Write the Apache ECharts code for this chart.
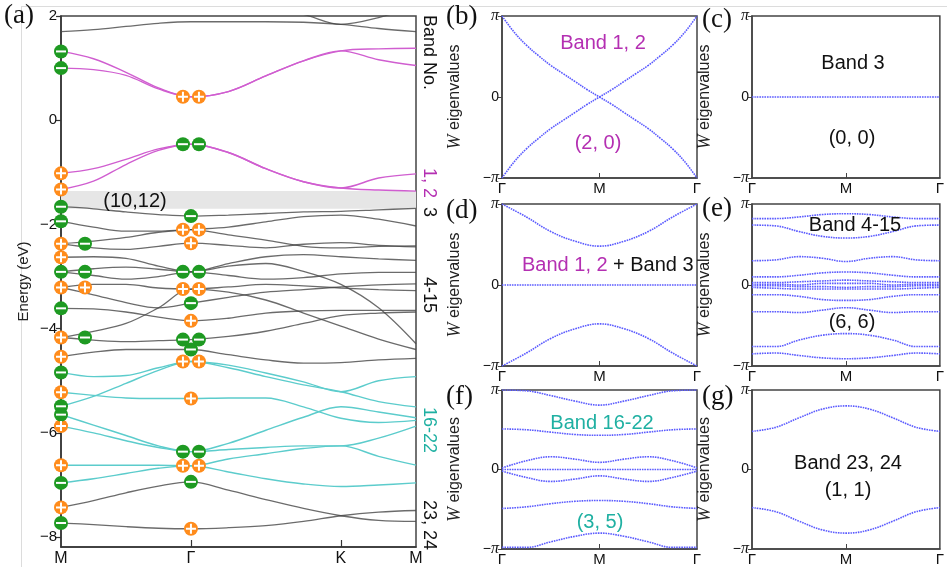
<!DOCTYPE html>
<html><head><meta charset="utf-8">
<script src="https://cdn.jsdelivr.net/npm/echarts@6/dist/echarts.min.js"></script>
<style>html,body{margin:0;padding:0;background:#fff}#c{width:947px;height:567px}</style>
</head><body><div id="c"></div>
<script>
// ---------- panel (a): band structure ----------
const kpath = [0, 0.125, 0.25, 0.375, 0.5, 0.644, 0.788, 0.933, 1.077, 1.222, 1.366];
const kTickPos = [0, 0.5, 1.077, 1.366];
const kTickLabels = ['M', 'Γ', 'K', 'M'];
const energyTicks = [-8, -6, -4, -2, 0, 2];

const topGreyBands = [
  [1.70, 1.74, 1.80, 1.86, 1.89, 1.89, 1.89, 1.88, 1.84, 1.76, 1.70],
  [2.40, 2.40, 2.40, 2.40, 2.40, 2.30, 2.15, 2.03, 1.84, 1.97, 2.20]
];
const magentaBands = [
  [1.32, 1.18, 0.92, 0.62, 0.45, 0.55, 0.85, 1.14, 1.33, 1.37, 1.38],
  [1.00, 0.97, 0.86, 0.60, 0.45, 0.55, 0.85, 1.14, 1.33, 1.16, 1.05],
  [-1.02, -0.93, -0.75, -0.55, -0.46, -0.62, -0.93, -1.18, -1.30, -1.11, -1.03],
  [-1.33, -1.17, -0.85, -0.58, -0.46, -0.62, -0.93, -1.18, -1.30, -1.34, -1.36]
];
const greyBands = [
  [-1.66, -1.70, -1.76, -1.81, -1.84, -1.82, -1.79, -1.76, -1.75, -1.72, -1.69],
  [-1.94, -2.05, -2.13, -2.13, -2.10, -2.20, -2.30, -2.42, -2.45, -2.42, -2.41],
  [-2.37, -2.32, -2.25, -2.15, -2.10, -2.05, -1.95, -1.85, -1.82, -1.90, -2.03],
  [-2.37, -2.45, -2.48, -2.42, -2.36, -2.40, -2.45, -2.38, -2.35, -2.40, -2.43],
  [-2.63, -2.62, -2.65, -2.80, -2.91, -2.75, -2.62, -2.58, -2.62, -2.66, -2.69],
  [-2.91, -2.85, -2.82, -2.86, -2.91, -2.80, -2.75, -2.90, -3.15, -3.60, -4.29],
  [-2.91, -2.98, -3.05, -3.00, -2.91, -2.98, -3.05, -3.02, -2.95, -2.92, -2.92],
  [-3.21, -3.15, -3.15, -3.22, -3.24, -3.20, -3.15, -3.18, -3.22, -3.25, -3.27],
  [-3.21, -3.35, -3.50, -3.60, -3.51, -3.40, -3.30, -3.25, -3.20, -3.16, -3.14],
  [-3.61, -3.62, -3.68, -3.78, -3.85, -3.80, -3.70, -3.66, -3.65, -3.65, -3.65],
  [-4.17, -4.05, -3.90, -3.60, -3.24, -3.30, -3.45, -3.70, -3.95, -4.20, -4.40],
  [-4.17, -4.22, -4.25, -4.23, -4.21, -4.15, -4.05, -3.90, -3.75, -3.70, -3.68],
  [-4.54, -4.45, -4.40, -4.40, -4.40, -4.50, -4.60, -4.66, -4.65, -4.60, -4.57]
];
const cyanBands = [
  [-4.84, -4.92, -4.90, -4.75, -4.63, -4.75, -4.92, -5.08, -5.21, -5.40, -5.50],
  [-5.49, -5.30, -5.05, -4.80, -4.63, -4.70, -4.85, -5.02, -5.21, -5.00, -4.92],
  [-5.22, -5.28, -5.33, -5.34, -5.34, -5.33, -5.33, -5.50, -5.72, -5.80, -5.76],
  [-5.65, -5.85, -6.05, -6.25, -6.36, -6.20, -5.95, -5.70, -5.50, -5.60, -5.71],
  [-5.87, -6.00, -6.15, -6.28, -6.36, -6.32, -6.28, -6.25, -6.25, -6.10, -5.87],
  [-6.62, -6.62, -6.62, -6.62, -6.63, -6.50, -6.40, -6.30, -6.25, -6.45, -6.62],
  [-6.96, -6.88, -6.78, -6.68, -6.63, -6.75, -6.88, -6.98, -7.03, -7.00, -6.96]
];
const bottomGreyBands = [
  [-7.43, -7.30, -7.15, -7.02, -6.94, -7.10, -7.28, -7.45, -7.59, -7.68, -7.70],
  [-7.73, -7.76, -7.80, -7.83, -7.84, -7.82, -7.78, -7.70, -7.59, -7.52, -7.49]
];
const gapBand = [-1.36, -1.70];

// parity eigenvalues (energy of the state) at M and Γ
const plusAtM = [-1.02, -1.33, -2.37, -2.63, -3.21, -4.17, -4.54, -5.22, -5.87, -6.62, -7.43];
const minusAtM = [1.32, 1.00, -1.66, -1.94, -2.91, -3.61, -4.84, -5.49, -5.65, -6.96, -7.73];
const plusAtM2 = [-3.21];
const minusAtM2 = [-2.37, -2.91, -4.17];
const plusAtG = [-2.36, -3.85, -5.34, -7.84];
const minusAtG = [-1.84, -3.51, -4.40, -6.94];
const plusPairAtG = [0.45, -2.10, -3.24, -4.63, -6.63];
const minusPairAtG = [-0.46, -2.91, -4.21, -6.36];

// ---------- Wilson loop panels ----------
const wk17 = [0, 0.0625, 0.125, 0.1875, 0.25, 0.3125, 0.375, 0.4375, 0.5, 0.5625, 0.625, 0.6875, 0.75, 0.8125, 0.875, 0.9375, 1];
const wk9 = [0, 0.125, 0.25, 0.375, 0.5, 0.625, 0.75, 0.875, 1];
const wTickPos = [0, 0.5, 1];
const wTickLabels = ['Γ', 'M', 'Γ'];
const piTicks = [-1, 0, 1];

const wilsonB = [
  [1.0, 0.80, 0.64, 0.51, 0.39, 0.29, 0.19, 0.09, 0, -0.09, -0.19, -0.29, -0.39, -0.51, -0.64, -0.80, -1.0],
  [-1.0, -0.80, -0.64, -0.51, -0.39, -0.29, -0.19, -0.09, 0, 0.09, 0.19, 0.29, 0.39, 0.51, 0.64, 0.80, 1.0]
];
const wilsonC = [
  [0, 0, 0, 0, 0, 0, 0, 0, 0]
];
const wilsonD = [
  [1.0, 0.84, 0.66, 0.54, 0.48, 0.54, 0.66, 0.84, 1.0],
  [0, 0, 0, 0, 0, 0, 0, 0, 0],
  [-1.0, -0.84, -0.66, -0.54, -0.48, -0.54, -0.66, -0.84, -1.0]
];
const wilsonE = [
  [0.82, 0.82, 0.84, 0.87, 0.88, 0.87, 0.84, 0.82, 0.82],
  [0.74, 0.73, 0.66, 0.60, 0.58, 0.60, 0.66, 0.73, 0.74],
  [0.30, 0.31, 0.35, 0.33, 0.29, 0.33, 0.35, 0.31, 0.30],
  [0.10, 0.10, 0.12, 0.15, 0.16, 0.15, 0.12, 0.10, 0.10],
  [0.03, 0.03, 0.04, 0.05, 0.06, 0.05, 0.04, 0.03, 0.03],
  [0.01, 0.01, 0.00, 0.02, 0.02, 0.02, 0.00, 0.01, 0.01],
  [-0.01, -0.01, -0.02, -0.02, -0.03, -0.02, -0.02, -0.01, -0.01],
  [-0.03, -0.04, -0.05, -0.05, -0.05, -0.05, -0.05, -0.04, -0.03],
  [-0.12, -0.12, -0.14, -0.18, -0.19, -0.18, -0.14, -0.12, -0.12],
  [-0.33, -0.33, -0.34, -0.31, -0.28, -0.31, -0.34, -0.33, -0.33],
  [-0.76, -0.76, -0.68, -0.62, -0.60, -0.62, -0.68, -0.76, -0.76],
  [-0.85, -0.84, -0.87, -0.90, -0.91, -0.90, -0.87, -0.84, -0.85]
];
const wilsonF = [
  [1.0, 0.99, 0.93, 0.86, 0.81, 0.86, 0.93, 0.99, 1.0],
  [0.51, 0.50, 0.47, 0.44, 0.43, 0.44, 0.47, 0.50, 0.51],
  [0.02, 0.11, 0.16, 0.13, 0.09, 0.13, 0.16, 0.11, 0.02],
  [0, 0, 0, 0, 0, 0, 0, 0, 0],
  [-0.02, -0.10, -0.15, -0.12, -0.08, -0.12, -0.15, -0.10, -0.02],
  [-0.49, -0.47, -0.43, -0.40, -0.39, -0.40, -0.43, -0.47, -0.49],
  [-0.98, -0.98, -0.91, -0.84, -0.80, -0.84, -0.91, -0.98, -0.98]
];
const wilsonG = [
  [0.48, 0.53, 0.65, 0.76, 0.80, 0.76, 0.65, 0.53, 0.48],
  [-0.48, -0.53, -0.65, -0.76, -0.80, -0.76, -0.65, -0.53, -0.48]
];

// ---------- styling ----------
const SANS = 'Liberation Sans, Arial, sans-serif';
const SERIF = 'Liberation Serif, Times New Roman, serif';
const MAGENTA = '#d05ed0';
const MAGENTA_TXT = '#b42fb2';
const CYAN = '#5ccccc';
const TEAL_TXT = '#1fb0a2';
const GREY = 'rgba(70,70,70,0.8)';
const WBLUE = '#5b5bff';
const ORANGE = '#ff8c1c';
const GREEN = '#1e9a22';
const PLUS_PATH = 'path://M4,0H6V4H10V6H6V10H4V6H0V4H4Z';

const chart = echarts.init(document.getElementById('c'), null, {renderer: 'canvas'});

const grids = [
  {left: 61, top: 16, width: 355, height: 535},
  {left: 502, top: 16, width: 195, height: 162},
  {left: 752, top: 16, width: 196, height: 162},
  {left: 502, top: 204, width: 195, height: 162},
  {left: 752, top: 204, width: 196, height: 162},
  {left: 502, top: 390, width: 195, height: 161},
  {left: 752, top: 390, width: 196, height: 161}
].map(g => Object.assign({show: true, borderColor: '#444', borderWidth: 1.5, backgroundColor: 'transparent'}, g));

const fmtMinus = v => (v < 0 ? '\u2212' + Math.abs(v) : String(v));

const xAxes = [{
  gridIndex: 0, type: 'value', min: 0, max: 1.366,
  splitLine: {show: false},
  axisLine: {show: true, onZero: false, lineStyle: {color: '#333', width: 1.5}},
  axisTick: {show: true, inside: true, length: 7, customValues: [kTickPos[1], kTickPos[2]], lineStyle: {color: '#333', width: 1.2}},
  axisLabel: {customValues: kTickPos, fontSize: 16, fontFamily: SANS, color: '#111', margin: 4,
    formatter: v => kTickLabels[kTickPos.findIndex(p => Math.abs(p - v) < 1e-6)] || ''}
}];
const yAxes = [{
  gridIndex: 0, type: 'value', min: -8.19, max: 2,
  splitLine: {show: false},
  axisLine: {show: true, onZero: false, lineStyle: {color: '#333', width: 1.5}},
  axisTick: {show: true, length: 5, customValues: energyTicks, lineStyle: {color: '#333', width: 1.2}},
  axisLabel: {customValues: energyTicks, fontSize: 15, fontFamily: SANS, color: '#111', margin: 4, formatter: fmtMinus},
  name: 'Energy (eV)', nameLocation: 'middle', nameGap: 30, nameRotate: 90,
  nameTextStyle: {fontSize: 15, fontFamily: SANS, color: '#222'}
}];
for (let i = 1; i <= 6; i++) {
  xAxes.push({
    gridIndex: i, type: 'value', min: 0, max: 1,
    splitLine: {show: false},
    axisLine: {show: true, onZero: false, lineStyle: {color: '#444', width: 1.5}},
    axisTick: {show: true, inside: true, length: 5, customValues: [0.5], lineStyle: {color: '#444'}},
    axisLabel: {customValues: wTickPos, fontSize: 15, fontFamily: SANS, color: '#111', margin: 3,
      formatter: v => wTickLabels[wTickPos.findIndex(p => Math.abs(p - v) < 1e-6)] || ''}
  });
  yAxes.push({
    gridIndex: i, type: 'value', min: -1, max: 1,
    splitLine: {show: false},
    axisLine: {show: true, onZero: false, lineStyle: {color: '#444', width: 1.5}},
    axisTick: {show: true, length: 4, customValues: piTicks, lineStyle: {color: '#444'}},
    axisLabel: {customValues: piTicks, fontSize: 14, fontFamily: SANS, color: '#111', margin: 3,
      formatter: v => (v > 0 ? '{p|π}' : v < 0 ? '\u2212{p|π}' : '0'),
      rich: {p: {fontFamily: SERIF, fontStyle: 'italic', fontSize: 16, color: '#111'}}},
    name: '{w|W} eigenvalues', nameLocation: 'middle', nameGap: 38, nameRotate: 90,
    nameTextStyle: {fontSize: 16, fontFamily: SANS, color: '#222',
      rich: {w: {fontFamily: SERIF, fontStyle: 'italic', fontSize: 18, color: '#222'}}}
  });
}

const series = [];
function bandSeries(bands, color, width, z) {
  bands.forEach(b => series.push({
    type: 'line', xAxisIndex: 0, yAxisIndex: 0, smooth: 0.35, symbol: 'none', z: z,
    lineStyle: {color: color, width: width}, silent: true,
    data: kpath.map((k, i) => [k, b[i]])
  }));
}
// grey gap shading
series.push({
  type: 'line', xAxisIndex: 0, yAxisIndex: 0, data: [], z: 1,
  markArea: {silent: true, itemStyle: {color: '#e6e6e6'},
    data: [[{xAxis: 0, yAxis: gapBand[0]}, {xAxis: 1.366, yAxis: gapBand[1]}]]}
});
bandSeries(topGreyBands, GREY, 1.3, 2);
bandSeries(greyBands, GREY, 1.3, 2);
bandSeries(bottomGreyBands, GREY, 1.3, 2);
bandSeries(cyanBands, CYAN, 1.4, 3);
bandSeries(magentaBands, MAGENTA, 1.4, 3);

function parity(k, energies, isPlus, offset) {
  const data = energies.map(e => [k, e]);
  series.push({type: 'scatter', xAxisIndex: 0, yAxisIndex: 0, data, symbol: 'circle', symbolSize: 14,
    symbolOffset: [offset, 0], itemStyle: {color: isPlus ? ORANGE : GREEN, opacity: 1}, z: 5, silent: true, clip: false});
  series.push({type: 'scatter', xAxisIndex: 0, yAxisIndex: 0, data,
    symbol: isPlus ? PLUS_PATH : 'rect', symbolSize: isPlus ? 10 : [10, 2],
    symbolOffset: [offset, 0], itemStyle: {color: '#fff', opacity: 1}, z: 6, silent: true, clip: false});
}
parity(0, plusAtM, true, 0);
parity(0, minusAtM, false, 0);
parity(0, plusAtM2, true, 24);
parity(0, minusAtM2, false, 24);
parity(0.5, plusAtG, true, 0);
parity(0.5, minusAtG, false, 0);
parity(0.5, plusPairAtG, true, -8);
parity(0.5, plusPairAtG, true, 8);
parity(0.5, minusPairAtG, false, -8);
parity(0.5, minusPairAtG, false, 8);

function wilson(idx, xs, lines) {
  lines.forEach(l => series.push({
    type: 'line', xAxisIndex: idx, yAxisIndex: idx, smooth: 0.4, symbol: 'none', silent: true,
    lineStyle: {color: WBLUE, width: 1.6, type: [1.6, 0.9]},
    data: xs.map((x, i) => [x, l[i]])
  }));
}
wilson(1, wk17, wilsonB);
wilson(2, wk9, wilsonC);
wilson(3, wk9, wilsonD);
wilson(4, wk9, wilsonE);
wilson(5, wk9, wilsonF);
wilson(6, wk9, wilsonG);

function txt(x, y, text, opts) {
  return Object.assign({
    type: 'text', x: x, y: y, z: 100, silent: true,
    style: Object.assign({text: text, fill: '#111', fontSize: 20, fontFamily: SANS,
      textAlign: 'center', textVerticalAlign: 'middle', align: 'center', verticalAlign: 'middle'}, opts.style || {})
  }, opts.el || {});
}
const rot = {rotation: -Math.PI / 2};
const graphic = [
  {type: 'line', shape: {x1: 21, y1: 6.5, x2: 947, y2: 6.5}, style: {stroke: '#dcdcdc', lineWidth: 1}, silent: true, z: 0},
  {type: 'line', shape: {x1: 21.5, y1: 6, x2: 21.5, y2: 567}, style: {stroke: '#dcdcdc', lineWidth: 1}, silent: true, z: 0},
  txt(135, 201, '(10,12)', {style: {fontSize: 20}}),
  txt(4, 16, '(a)', {style: {fontFamily: SERIF, fontSize: 27, textAlign: 'left', align: 'left'}}),
  txt(446, 17, '(b)', {style: {fontFamily: SERIF, fontSize: 27, textAlign: 'left', align: 'left'}}),
  txt(702, 20, '(c)', {style: {fontFamily: SERIF, fontSize: 27, textAlign: 'left', align: 'left'}}),
  txt(446, 211, '(d)', {style: {fontFamily: SERIF, fontSize: 27, textAlign: 'left', align: 'left'}}),
  txt(702, 209, '(e)', {style: {fontFamily: SERIF, fontSize: 27, textAlign: 'left', align: 'left'}}),
  txt(446, 397, '(f)', {style: {fontFamily: SERIF, fontSize: 27, textAlign: 'left', align: 'left'}}),
  txt(702, 397, '(g)', {style: {fontFamily: SERIF, fontSize: 27, textAlign: 'left', align: 'left'}}),
  // right-side band numbers of (a)
  txt(429, 15, 'Band No.', {style: {fontSize: 18, textAlign: 'left', align: 'left'}, el: rot}),
  txt(429, 168, '1, 2', {style: {fontSize: 18, fill: MAGENTA_TXT, textAlign: 'left', align: 'left'}, el: rot}),
  txt(429, 207, '3', {style: {fontSize: 18, textAlign: 'left', align: 'left'}, el: rot}),
  txt(429, 277, '4-15', {style: {fontSize: 18, textAlign: 'left', align: 'left'}, el: rot}),
  txt(429, 407, '16-22', {style: {fontSize: 18, fill: TEAL_TXT, textAlign: 'left', align: 'left'}, el: rot}),
  txt(429, 500, '23, 24', {style: {fontSize: 18, textAlign: 'left', align: 'left'}, el: rot}),
  // Wilson panel annotations
  txt(603, 43, 'Band 1, 2', {style: {fill: MAGENTA_TXT}}),
  txt(598, 143, '(2, 0)', {style: {fill: MAGENTA_TXT}}),
  txt(853, 63, 'Band 3', {}),
  txt(852, 138, '(0, 0)', {}),
  txt(522, 265, 'Band 1, 2', {style: {fill: MAGENTA_TXT, textAlign: 'left', align: 'left'}}),
  txt(613, 265, '+ Band 3', {style: {textAlign: 'left', align: 'left'}}),
  txt(855, 225, 'Band 4-15', {}),
  txt(852, 322, '(6, 6)', {}),
  txt(602, 423, 'Band 16-22', {style: {fill: TEAL_TXT}}),
  txt(600, 522, '(3, 5)', {style: {fill: TEAL_TXT}}),
  txt(848, 463, 'Band 23, 24', {}),
  txt(848, 490, '(1, 1)', {})
];

chart.setOption({
  animation: false,
  backgroundColor: '#fff',
  grid: grids,
  xAxis: xAxes,
  yAxis: yAxes,
  series: series,
  graphic: graphic
});
</script></body></html>
